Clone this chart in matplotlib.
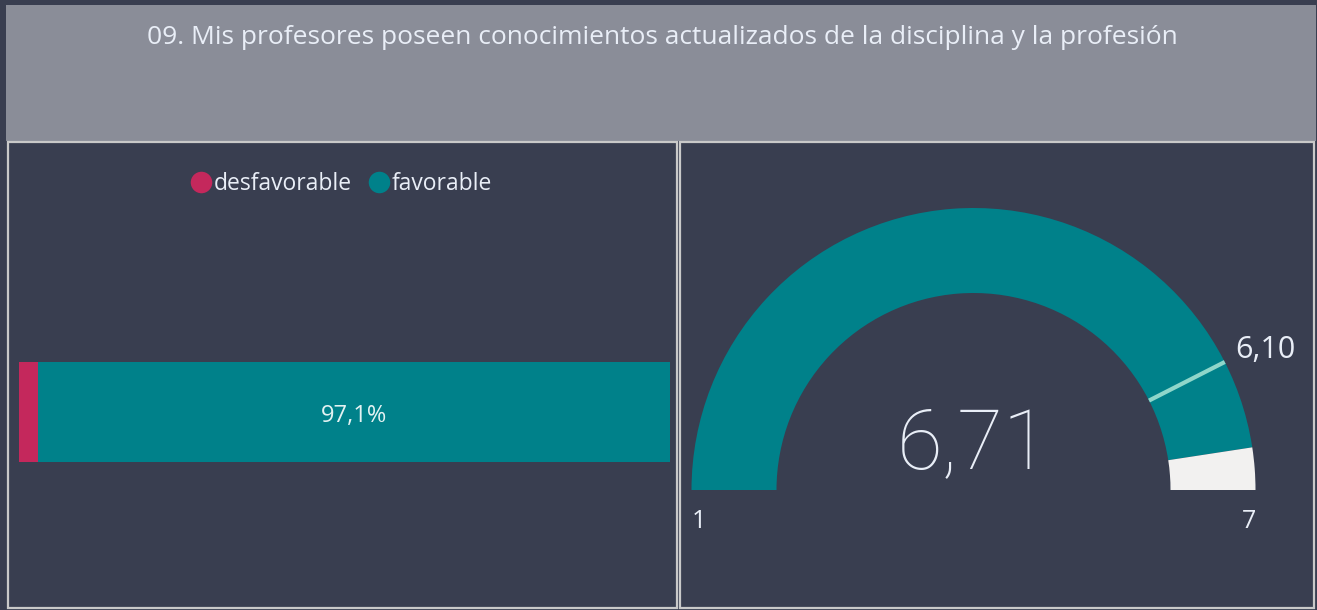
import math
import matplotlib
matplotlib.use('Agg')
import matplotlib.pyplot as plt
from matplotlib.patches import Rectangle, Wedge
from matplotlib.lines import Line2D

plt.rcParams['font.family'] = ['Open Sans', 'DejaVu Sans']

# data
title = '09. Mis profesores poseen conocimientos actualizados de la disciplina y la profesión'
categories = ['desfavorable', 'favorable']
shares = [2.9, 97.1]
bar_label = '97,1%'
gauge_min = 1
gauge_max = 7
gauge_value = 6.71
gauge_target = 6.10

BG = '#393e50'
GRAY = '#8a8d98'
FRAME = '#c9c9c9'
TEAL = '#00818a'
RED = '#c4285c'
REST = '#f2f1f0'
TARGET = '#8fd6ca'
TXT = '#e9eef7'

W, H = 1317, 610
fig = plt.figure(figsize=(W / 100, H / 100), dpi=100, facecolor=BG)

# background canvas in pixels, y up
base = fig.add_axes([0, 0, 1, 1])
base.set_xlim(0, W)
base.set_ylim(0, H)
base.axis('off')


def py(y):
    # image row -> canvas y
    return H - y


base.add_patch(Rectangle((6, py(141)), 1310, 136, facecolor=GRAY, edgecolor='none'))
base.add_patch(Rectangle((8, py(608)), 669, 466, facecolor=BG, edgecolor=FRAME, lw=1.6))
base.add_patch(Rectangle((680, py(608)), 634, 466, facecolor=BG, edgecolor=FRAME, lw=1.6))
base.text(662, py(38), title, ha='center', va='center', fontsize=19, color=TXT)

# stacked bar
bx = fig.add_axes([19 / W, (H - 462) / H, 651 / W, 100 / H])
left = 0
for cat, val, col in zip(categories, shares, [RED, TEAL]):
    bx.barh([0], [val], left=left, height=1.0, color=col, label=cat)
    left += val
bx.set_xlim(0, sum(shares))
bx.set_ylim(-0.5, 0.5)
bx.axis('off')
bx.text(shares[0] + shares[1] / 2, -0.04, bar_label, ha='center', va='center',
        fontsize=17, color='#e3f2f2')

handles = [Line2D([], [], marker='o', ls='none', markersize=15.5, color=c,
                  markeredgewidth=0) for c in [RED, TEAL]]
fig.legend(handles, categories, loc='center', bbox_to_anchor=(340 / W, py(184) / H),
           ncol=2, frameon=False, fontsize=16.5, labelcolor=TXT,
           handletextpad=-0.05, columnspacing=0.6, handlelength=1.2)

# gauge
cx, cy = 973.5, py(490)
r_out, r_in = 282, 197
frac = (gauge_value - gauge_min) / (gauge_max - gauge_min)
tfrac = (gauge_target - gauge_min) / (gauge_max - gauge_min)
ang_v = 180 * (1 - frac)
ang_t = 180 * (1 - tfrac)
base.add_patch(Wedge((cx, cy), r_out, ang_v, 180, width=r_out - r_in,
                     facecolor=TEAL, edgecolor='none'))
base.add_patch(Wedge((cx, cy), r_out, 0, ang_v, width=r_out - r_in,
                     facecolor=REST, edgecolor='none'))
ca, sa = math.cos(math.radians(ang_t)), math.sin(math.radians(ang_t))
base.plot([cx + r_in * ca, cx + r_out * ca], [cy + r_in * sa, cy + r_out * sa],
          color=TARGET, lw=3, solid_capstyle='butt')

base.text(cx, py(445), f'{gauge_value:.2f}'.replace('.', ','), ha='center', va='center',
          fontsize=60, color=TXT, family=['Roboto', 'DejaVu Sans'], fontweight='light')
base.text(692, py(521), str(gauge_min), ha='left', va='center', fontsize=18, color=TXT)
base.text(1256, py(521), str(gauge_max), ha='right', va='center', fontsize=18, color=TXT)
base.text(1235, py(350), f'{gauge_target:.2f}'.replace('.', ','), ha='left', va='center',
          fontsize=22, color=TXT)

fig.savefig('out.png', dpi=100, facecolor=BG)
